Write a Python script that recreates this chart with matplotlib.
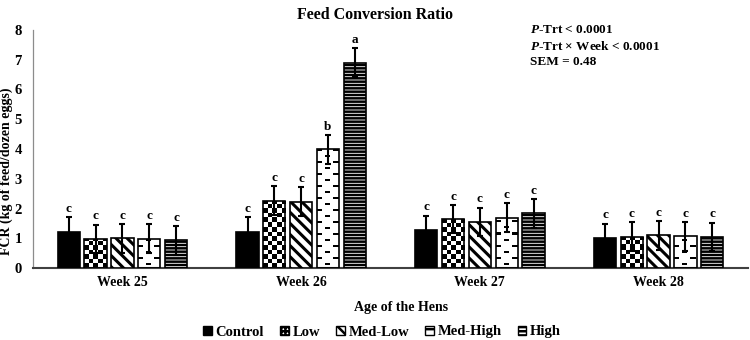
import numpy as np
import matplotlib
matplotlib.use("Agg")
import matplotlib.pyplot as plt
from matplotlib.patches import Patch

plt.rcParams['font.family'] = ['Liberation Serif', 'DejaVu Serif']
plt.rcParams['font.weight'] = 'bold'
plt.rcParams['mathtext.fontset'] = 'custom'
plt.rcParams['mathtext.it'] = 'Liberation Serif:italic:bold'
plt.rcParams['mathtext.rm'] = 'Liberation Serif:bold'

weeks = ["Week 25", "Week 26", "Week 27", "Week 28"]
groups = ["Control", "Low", "Med-Low", "Med-High", "High"]
fcr = {
    "Control":  [1.22, 1.22, 1.28, 1.01],
    "Low":      [0.97, 2.26, 1.64, 1.05],
    "Med-Low":  [1.00, 2.23, 1.55, 1.10],
    "Med-High": [0.99, 3.99, 1.69, 1.06],
    "High":     [0.93, 6.90, 1.84, 1.04],
}
letters = {
    "Control":  ["c", "c", "c", "c"],
    "Low":      ["c", "c", "c", "c"],
    "Med-Low":  ["c", "c", "c", "c"],
    "Med-High": ["c", "b", "c", "c"],
    "High":     ["c", "a", "c", "c"],
}
sem = 0.48

fig = plt.figure(figsize=(7.5, 3.4), dpi=100)
ax = fig.add_axes([33/750, 72/340, 715/750, 238/340])
ax.set_xlim(-0.5, 3.5)
ax.set_ylim(0, 8)

# pixel scale of the axes (for the fill patterns)
p0 = ax.transData.transform((0, 0))
p1 = ax.transData.transform((1, 1))
sx, sy = p1[0] - p0[0], p1[1] - p0[1]


def pattern(kind, w, h):
    yy, xx = np.mgrid[0:h, 0:w]
    if kind == "checker":
        s = 4.5
        return (((xx // s) + (yy // s)) % 2 == 0).astype(float)
    if kind == "dash":
        r = (yy // 6) % 2
        on = (yy % 6 >= 3) & (yy % 6 < 5)
        xs = (xx + 8 * r) % 16
        return (on & (xs >= 8) & (xs < 13)).astype(float)
    return np.zeros((h, w))


styles = {
    "Control":  dict(fill="solid"),
    "Low":      dict(fill="checker"),
    "Med-Low":  dict(fill="hatch", hatch="\\\\\\"),
    "Med-High": dict(fill="dash"),
    "High":     dict(fill="hatch", hatch="-----"),
}

x = np.arange(len(weeks))
pitch = 0.15
width = 0.125
for i, g in enumerate(groups):
    xs = x + (i - 2) * pitch
    st = styles[g]
    if st["fill"] == "solid":
        bars = ax.bar(xs, fcr[g], width, color="black", edgecolor="black", lw=1.2, zorder=3)
    elif st["fill"] == "hatch":
        plt.rcParams['hatch.linewidth'] = 2.2 if g == "Med-Low" else 1.8
        bars = ax.bar(xs, fcr[g], width, facecolor="white", edgecolor="black",
                      hatch=st["hatch"], lw=1.2, zorder=3)
    else:
        bars = ax.bar(xs, fcr[g], width, facecolor="none", edgecolor="black", lw=1.2, zorder=3)
        for b in bars:
            w_px = int(round(b.get_width() * sx)) + 1
            h_px = int(round(b.get_height() * sy)) + 1
            img = pattern(st["fill"], w_px, h_px)
            im = ax.imshow(img, cmap="gray_r", vmin=0, vmax=1, origin="lower",
                           extent=(b.get_x(), b.get_x() + w_px / sx, 0, h_px / sy),
                           interpolation="nearest", aspect="auto", zorder=2)
            im.set_clip_path(b)
    ax.errorbar(xs, fcr[g], yerr=sem, fmt="none", ecolor="black", elinewidth=1.5,
                capsize=2.5, capthick=1.5, zorder=4)
    for xi, v, t in zip(xs, fcr[g], letters[g]):
        ax.text(xi, v + sem + 0.08, t, ha="center", va="bottom", fontsize=9.5,
                fontweight="bold")

ax.set_xlim(-0.5, 3.5)
ax.set_ylim(0, 8)
ax.set_xticks(x)
ax.set_xticklabels(weeks, fontsize=10, fontweight="bold")
ax.set_yticks(range(0, 9))
ax.tick_params(axis="y", length=0, pad=8, labelsize=10.5)
ax.tick_params(axis="x", length=0, pad=6)
for lab in ax.get_yticklabels():
    lab.set_fontweight("bold")
for s in ["top", "right"]:
    ax.spines[s].set_visible(False)
ax.spines["left"].set_color("#8c8c8c")
ax.spines["left"].set_linewidth(0.9)
ax.spines["bottom"].set_color("#404040")
ax.spines["bottom"].set_linewidth(1.5)

fig.text(6/750, 1 - 171/340, "FCR (kg of feed/dozen eggs)", rotation=90, ha="center",
         va="center", fontsize=10, fontweight="bold")
fig.text(401/750, 1 - 308/340, "Age of the Hens", ha="center", va="center",
         fontsize=10, fontweight="bold")
fig.text(0.5, 1 - 15/340, "Feed Conversion Ratio", ha="center", va="center",
         fontsize=11.5, fontweight="bold")

fig.text(530/750, 1 - 30/340, "$\\it{P}$-Trt < 0.0001", fontsize=9.5,
         fontweight="bold", va="center")
fig.text(530/750, 1 - 46/340, "$\\it{P}$-Trt × Week < 0.0001", fontsize=9.5,
         fontweight="bold", va="center")
fig.text(530/750, 1 - 62/340, "SEM = 0.48", fontsize=9.5, fontweight="bold", va="center")

handles = [
    Patch(facecolor="black", edgecolor="black"),
    Patch(facecolor="white", edgecolor="black", hatch="++++"),
    Patch(facecolor="white", edgecolor="black", hatch="\\\\\\"),
    Patch(facecolor="white", edgecolor="black", hatch="--"),
    Patch(facecolor="white", edgecolor="black", hatch="----"),
]
fig.legend(handles, groups, loc="center", bbox_to_anchor=(382/750, 1 - 332/340), ncol=5,
           frameon=False, handlelength=0.6, handleheight=0.6, handletextpad=0.25,
           columnspacing=1.1, borderpad=0, prop={"weight": "bold", "size": 10.5})

fig.savefig("out.png", dpi=100)
